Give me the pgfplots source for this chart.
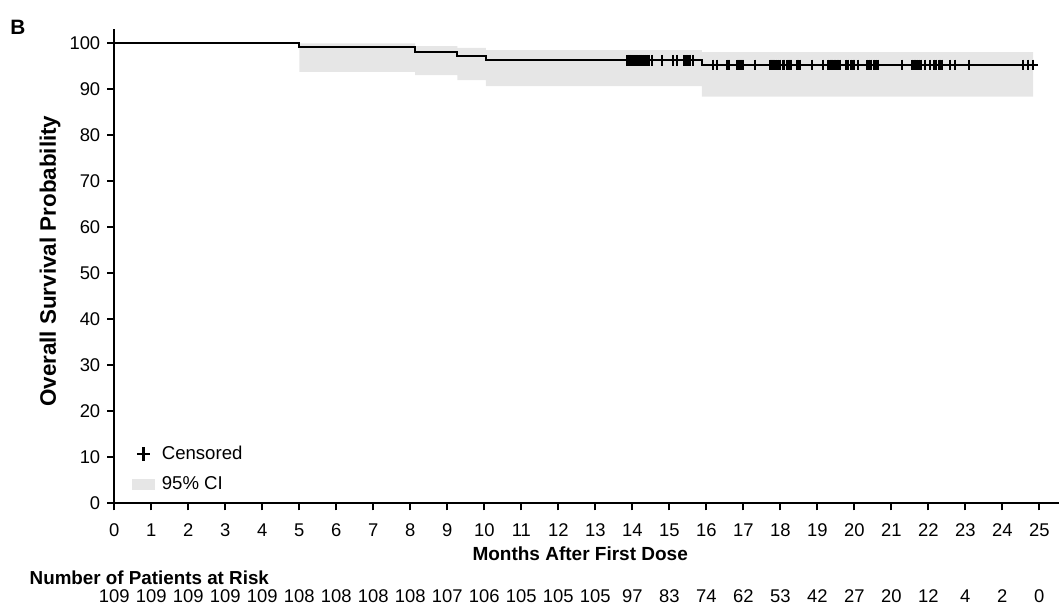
\documentclass[border=0pt]{standalone}
\usepackage{fontspec}
\setmainfont{Liberation Sans}
\usepackage{pgfplots}
\pgfplotsset{compat=1.18}
\usepgfplotslibrary{fillbetween}
\definecolor{cigray}{RGB}{230,230,230}
\begin{document}
\begin{tikzpicture}[font=\fontsize{9}{11}\selectfont]
\begin{axis}[
  at={(0,0)}, anchor=south west,
  scale only axis, width=472.5pt, height=237.35pt,
  xmin=0, xmax=25.54, ymin=0, ymax=103.2,
  axis x line*=bottom, axis y line*=left,
  axis line style={-, line width=0.9pt, black},
  xtick={0,...,25}, ytick={0,10,...,100},
  tick align=outside, major tick length=3.5pt,
  tick style={line width=0.9pt, black},
  clip=false,
  /pgf/number format/assume math mode=true,
  tick label style={font=\fontsize{9.2}{11}\selectfont},
  xticklabel style={yshift=-3pt},
  xlabel={Months After First Dose},
  xlabel style={at={(axis description cs:0.493,-0.1053)}, anchor=center, font=\bfseries\fontsize{9.5}{11}\selectfont},
  ylabel={Overall Survival Probability},
  ylabel style={at={(axis description cs:-0.068,0.51)}, anchor=center, font=\bfseries\fontsize{11.2}{13}\selectfont},
  legend style={at={(axis description cs:0.012,0.139)}, anchor=north west, draw=none, fill=none,
    font=\fontsize{9.3}{11}\selectfont, row sep=3pt},
  legend cell align=left,
]
\addlegendimage{legend image code/.code={\draw[black, mark=+, mark size=3.3pt, line width=1.3pt] plot coordinates {(5.5pt,0pt)};}}
\addlegendentry{\hspace{1.5pt}Censored}
\addlegendimage{legend image code/.code={\fill[cigray] (0pt,-2.4pt) rectangle (11pt,2.4pt);}}
\addlegendentry{\hspace{1.5pt}95\% CI}

\addplot[const plot, draw=none, name path=upper, forget plot] coordinates {
(5.0,100) (8.13,99.4) (9.27,99.0) (10.04,98.5) (15.88,98.1) (24.83,98.1)};
\addplot[const plot, draw=none, name path=lower, forget plot] coordinates {
(5.0,93.8) (8.13,93.1) (9.27,92.0) (10.04,90.7) (15.88,88.4) (24.83,88.4)};
\addplot[cigray, draw=none, forget plot] fill between[of=upper and lower];

\addplot[const plot, black, line width=1pt, forget plot] coordinates {
(0,100) (5.0,99.13) (8.13,98.17) (9.27,97.24) (10.04,96.33) (15.88,95.3) (24.93,95.3)};

\addplot[only marks, mark=+, mark size=2.7pt, black, line width=1pt, forget plot] coordinates {
(13.85,96.33) (13.87,96.33) (13.89,96.33) (13.91,96.33) (13.93,96.33) (13.95,96.33) (13.97,96.33) (13.99,96.33)
(14.02,96.33) (14.05,96.33) (14.08,96.33) (14.11,96.33) (14.14,96.33) (14.17,96.33) (14.20,96.33) (14.23,96.33)
(14.28,96.33) (14.33,96.33) (14.40,96.33) (14.46,96.33) (14.52,96.33) (14.79,96.33)
(15.11,96.33) (15.20,96.33) (15.40,96.33) (15.44,96.33) (15.48,96.33) (15.52,96.33) (15.56,96.33) (15.63,96.33)
(16.19,95.3) (16.28,95.3) (16.56,95.3) (16.59,95.3) (16.62,95.3) (16.82,95.3) (16.85,95.3) (16.88,95.3)
(16.91,95.3) (16.94,95.3) (16.97,95.3) (17.00,95.3)
(17.32,95.3) (17.72,95.3) (17.75,95.3) (17.78,95.3) (17.81,95.3) (17.84,95.3) (17.87,95.3) (17.93,95.3) (17.99,95.3)
(18.06,95.3) (18.10,95.3) (18.17,95.3) (18.20,95.3) (18.23,95.3) (18.26,95.3) (18.30,95.3) (18.44,95.3) (18.48,95.3) (18.53,95.3) (18.85,95.3)
(19.16,95.3) (19.29,95.3) (19.33,95.3) (19.37,95.3) (19.41,95.3) (19.45,95.3) (19.49,95.3) (19.53,95.3)
(19.57,95.3) (19.61,95.3) (19.78,95.3) (19.84,95.3) (19.90,95.3) (19.96,95.3) (20.00,95.3)
(20.10,95.3) (20.34,95.3) (20.40,95.3) (20.46,95.3) (20.52,95.3) (20.58,95.3) (20.64,95.3)
(21.28,95.3) (21.55,95.3) (21.60,95.3) (21.65,95.3) (21.70,95.3) (21.75,95.3) (21.80,95.3) (21.90,95.3)
(22.05,95.3) (22.15,95.3) (22.22,95.3) (22.28,95.3) (22.32,95.3) (22.36,95.3) (22.58,95.3) (22.72,95.3)
(23.09,95.3) (24.56,95.3) (24.70,95.3) (24.83,95.3)};
\end{axis}

% number at risk row
\begin{axis}[
  at={(0,-46.35pt)}, anchor=south west,
  scale only axis, width=472.5pt, height=1pt,
  xmin=0, xmax=25.54, ymin=0, ymax=1,
  hide y axis, axis x line*=bottom,
  x axis line style={draw=none},
  xtick={0,...,25},
  xticklabels={109,109,109,109,109,108,108,108,108,107,106,105,105,105,97,83,74,62,53,42,27,20,12,4,2,0},
  major tick length=0pt, tick style={draw=none},
  xticklabel style={anchor=center, font=\fontsize{9.2}{11}\selectfont},
]
\addplot[draw=none, forget plot] coordinates {(0,0) (25,0)};
\end{axis}

\node[anchor=west, inner sep=0pt, font=\bfseries\fontsize{10.4}{12}\selectfont] at (-52.15pt,237.9pt) {B};
\node[anchor=west, inner sep=0pt, font=\bfseries\fontsize{9.4}{11}\selectfont] at (-42.5pt,-37.2pt) {Number of Patients at Risk};
\pgfresetboundingbox
\path (-57.15pt,-54.35pt) rectangle (473.35pt,251.65pt);
\end{tikzpicture}
\end{document}
